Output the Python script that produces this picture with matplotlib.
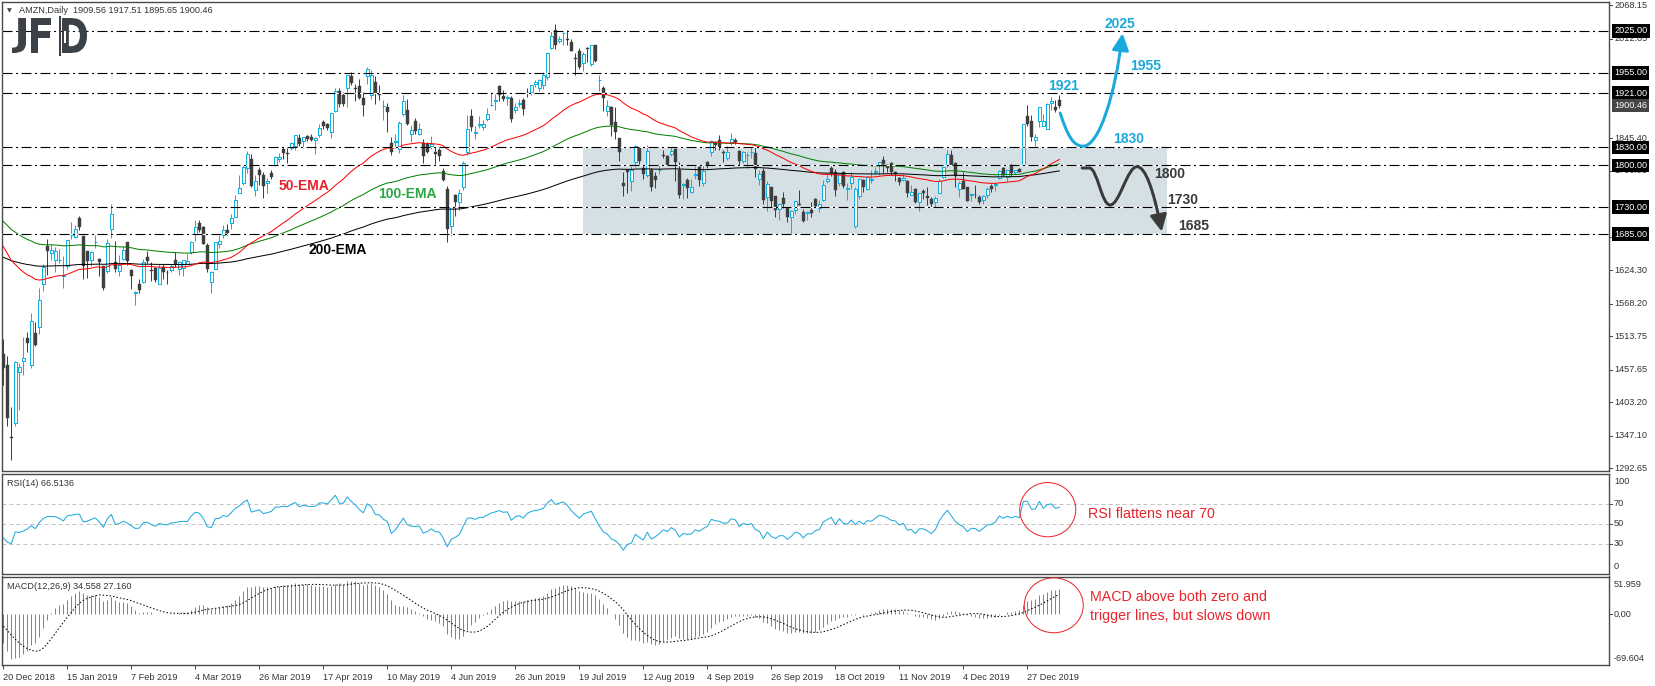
import numpy as np
import matplotlib
matplotlib.use('Agg')
import matplotlib.pyplot as plt
import matplotlib.transforms as mtransforms
from matplotlib.patches import Rectangle, Ellipse, FancyArrowPatch, PathPatch
from matplotlib.path import Path
from matplotlib.collections import LineCollection, PolyCollection
from matplotlib.textpath import TextPath
from matplotlib.font_manager import FontProperties

plt.rcParams['lines.scale_dashes'] = False
plt.rcParams['font.family'] = ['Liberation Sans', 'DejaVu Sans']

# ---------------- data (AMZN daily, 20 Dec 2018 .. 9 Jan 2020) ----------------
opens = [
    1484, 1465, 1346, 1369, 1454, 1473, 1511,
    1465, 1520, 1530, 1602, 1665, 1653, 1641, 1641, 1615, 1632, 1684, 1680, 1712, 1681, 1656, 1641, 1671, 1644, 1631, 1623, 1693,
    1639, 1623, 1643, 1671, 1625, 1586, 1601, 1604, 1647, 1625, 1628, 1601, 1630, 1620, 1624, 1641, 1626, 1628, 1635,
    1655, 1685, 1703, 1696, 1667, 1604, 1626, 1669, 1683, 1691, 1703, 1713, 1754, 1770, 1796, 1810, 1758, 1793, 1784, 1770, 1787,
    1800, 1811, 1827, 1821, 1829, 1833, 1845, 1841, 1849, 1848, 1842, 1851, 1873, 1869, 1855, 1891, 1925, 1917, 1929, 1949, 1930,
    1933, 1913, 1949, 1918, 1940, 1919, 1900, 1898, 1837, 1839, 1828, 1886, 1893, 1853, 1874, 1852, 1837, 1836, 1833, 1823, 1825, 1790,
    1760, 1699, 1750, 1738, 1764, 1822, 1883, 1854, 1867, 1864, 1877, 1901, 1908, 1933, 1916, 1913, 1912, 1892, 1902, 1909,
    1923, 1923, 1936, 1929, 1934, 1948, 1997, 2026, 2008, 2021, 2011, 2007, 1980, 1991, 1971, 1996, 1969, 2001, 1942, 1930, 1891, 1898,
    1872, 1845, 1770, 1792, 1773, 1806, 1829, 1796, 1783, 1793, 1782, 1793, 1818, 1815, 1819, 1828, 1793, 1767, 1776, 1755, 1783, 1797,
    1770, 1805, 1822, 1838, 1842, 1823, 1812, 1838, 1842, 1824, 1807, 1817, 1822, 1821, 1777, 1791, 1747, 1763, 1748, 1727,
    1746, 1728, 1713, 1726, 1735, 1722, 1720, 1725, 1743, 1729, 1742, 1773, 1796, 1788, 1770, 1788, 1761, 1771, 1698, 1748, 1775, 1760, 1776,
    1788, 1801, 1809, 1801, 1804, 1788, 1778, 1775, 1773, 1751, 1760, 1738, 1757, 1749, 1743, 1739, 1753, 1780, 1801, 1818,
    1804, 1760, 1774, 1764, 1751, 1751, 1747, 1742, 1750, 1765, 1767, 1778, 1795, 1781, 1800, 1788, 1794, 1801, 1883, 1874, 1842,
    1875, 1865, 1860, 1905, 1898, 1910,
]
highs = [
    1509, 1480, 1396, 1473, 1469, 1513, 1521,
    1553, 1538, 1594, 1635, 1677, 1668, 1663, 1660, 1648, 1675, 1705, 1700, 1716, 1682, 1657, 1657, 1683, 1645, 1632, 1677, 1736,
    1673, 1650, 1665, 1672, 1626, 1589, 1609, 1643, 1656, 1638, 1629, 1634, 1635, 1624, 1635, 1655, 1640, 1642, 1652,
    1674, 1709, 1708, 1698, 1670, 1623, 1672, 1684, 1700, 1702, 1719, 1750, 1784, 1800, 1824, 1819, 1783, 1797, 1788, 1778, 1793,
    1816, 1820, 1830, 1829, 1839, 1850, 1853, 1848, 1850, 1852, 1847, 1870, 1876, 1871, 1888, 1929, 1930, 1922, 1951, 1956, 1936,
    1944, 1922, 1964, 1959, 1949, 1935, 1909, 1904, 1847, 1852, 1875, 1918, 1911, 1868, 1879, 1871, 1844, 1839, 1849, 1830, 1829, 1796,
    1766, 1731, 1752, 1760, 1808, 1885, 1894, 1865, 1883, 1876, 1896, 1922, 1920, 1935, 1926, 1917, 1916, 1904, 1911, 1913,
    1930, 1935, 1942, 1945, 1956, 1990, 2025, 2036, 2017, 2023, 2026, 2012, 1988, 1996, 1989, 1998, 2001, 2001, 1951, 1933, 1910, 1900,
    1898, 1846, 1789, 1794, 1799, 1834, 1831, 1801, 1834, 1796, 1788, 1803, 1826, 1817, 1830, 1829, 1805, 1770, 1779, 1777, 1799, 1800,
    1801, 1808, 1842, 1841, 1850, 1826, 1833, 1854, 1846, 1826, 1824, 1822, 1831, 1831, 1793, 1796, 1773, 1763, 1749, 1737,
    1756, 1729, 1725, 1741, 1758, 1727, 1724, 1738, 1745, 1742, 1776, 1786, 1799, 1794, 1786, 1790, 1770, 1788, 1764, 1779, 1777, 1782, 1792,
    1797, 1806, 1815, 1803, 1806, 1790, 1780, 1786, 1775, 1767, 1762, 1754, 1761, 1763, 1747, 1748, 1777, 1797, 1825, 1825,
    1806, 1773, 1789, 1764, 1754, 1767, 1751, 1750, 1764, 1769, 1770, 1792, 1798, 1793, 1803, 1793, 1796, 1870, 1901, 1884, 1853,
    1898, 1886, 1904, 1914, 1910, 1918,
]
lows = [
    1432, 1364, 1307, 1363, 1390, 1449, 1487,
    1461, 1497, 1518, 1589, 1617, 1641, 1622, 1636, 1595, 1626, 1676, 1678, 1692, 1610, 1612, 1632, 1662, 1614, 1591, 1619, 1679,
    1622, 1614, 1642, 1633, 1593, 1567, 1586, 1603, 1637, 1606, 1605, 1601, 1610, 1601, 1621, 1630, 1616, 1615, 1634,
    1651, 1674, 1689, 1668, 1621, 1587, 1626, 1661, 1679, 1684, 1693, 1713, 1754, 1767, 1787, 1763, 1748, 1767, 1746, 1753, 1777,
    1799, 1805, 1810, 1804, 1825, 1825, 1832, 1829, 1840, 1841, 1819, 1848, 1860, 1859, 1846, 1890, 1898, 1900, 1898, 1934, 1907,
    1911, 1882, 1936, 1911, 1903, 1910, 1876, 1856, 1818, 1830, 1821, 1882, 1867, 1839, 1852, 1851, 1804, 1821, 1827, 1802, 1808, 1773,
    1672, 1681, 1715, 1726, 1759, 1818, 1857, 1844, 1862, 1859, 1875, 1900, 1892, 1907, 1908, 1901, 1872, 1887, 1898, 1884,
    1915, 1917, 1931, 1925, 1928, 1943, 1995, 1995, 2004, 2002, 2001, 1992, 1952, 1962, 1958, 1973, 1966, 1973, 1925, 1891, 1883, 1849,
    1844, 1808, 1749, 1753, 1757, 1798, 1802, 1777, 1780, 1757, 1762, 1785, 1813, 1800, 1815, 1774, 1745, 1744, 1746, 1754, 1777, 1765,
    1765, 1796, 1816, 1826, 1825, 1805, 1809, 1834, 1835, 1800, 1804, 1796, 1813, 1781, 1767, 1736, 1723, 1731, 1714, 1709,
    1728, 1705, 1685, 1719, 1733, 1705, 1709, 1714, 1730, 1722, 1741, 1771, 1782, 1749, 1765, 1762, 1742, 1760, 1695, 1743, 1756, 1759, 1771,
    1785, 1783, 1787, 1789, 1783, 1774, 1767, 1773, 1747, 1750, 1737, 1723, 1743, 1734, 1730, 1731, 1753, 1778, 1797, 1801,
    1763, 1747, 1760, 1740, 1740, 1746, 1735, 1736, 1745, 1755, 1757, 1777, 1782, 1774, 1782, 1785, 1788, 1800, 1866, 1841, 1832,
    1864, 1865, 1860, 1892, 1890, 1896,
]
closes = [
    1461, 1377, 1344, 1471, 1462, 1478, 1502,
    1539, 1500, 1575, 1630, 1657, 1659, 1656, 1641, 1617, 1675, 1684, 1693, 1696, 1632, 1640, 1655, 1671, 1638, 1594, 1670, 1719,
    1626, 1633, 1659, 1640, 1614, 1588, 1591, 1638, 1640, 1623, 1608, 1628, 1622, 1619, 1632, 1633, 1639, 1641, 1640,
    1672, 1696, 1692, 1669, 1626, 1621, 1671, 1673, 1691, 1686, 1712, 1742, 1762, 1797, 1819, 1765, 1774, 1784, 1766, 1773, 1781,
    1814, 1814, 1821, 1819, 1837, 1850, 1836, 1847, 1844, 1843, 1845, 1863, 1865, 1862, 1887, 1924, 1902, 1902, 1951, 1938, 1927,
    1912, 1901, 1962, 1951, 1921, 1918, 1900, 1890, 1823, 1840, 1871, 1908, 1869, 1859, 1858, 1860, 1815, 1823, 1836, 1819, 1816, 1775,
    1693, 1730, 1739, 1754, 1804, 1861, 1864, 1855, 1870, 1870, 1886, 1901, 1909, 1918, 1911, 1914, 1878, 1898, 1904, 1894,
    1922, 1934, 1939, 1943, 1952, 1988, 2017, 2001, 2011, 2021, 2010, 1992, 1978, 1965, 1986, 1994, 2001, 1974, 1943, 1912, 1899, 1867,
    1855, 1823, 1765, 1788, 1793, 1833, 1808, 1785, 1824, 1763, 1776, 1793, 1816, 1801, 1824, 1805, 1750, 1769, 1762, 1764, 1786, 1776,
    1790, 1801, 1841, 1834, 1831, 1821, 1823, 1844, 1839, 1808, 1823, 1817, 1822, 1794, 1785, 1742, 1768, 1740, 1725, 1736,
    1736, 1713, 1724, 1740, 1733, 1706, 1722, 1720, 1732, 1736, 1767, 1777, 1787, 1758, 1786, 1766, 1762, 1781, 1761, 1777, 1763, 1780, 1777,
    1791, 1805, 1802, 1796, 1788, 1786, 1772, 1778, 1753, 1755, 1739, 1753, 1753, 1746, 1735, 1746, 1774, 1797, 1819, 1801,
    1782, 1770, 1761, 1740, 1752, 1750, 1739, 1749, 1760, 1761, 1769, 1791, 1784, 1792, 1787, 1793, 1789, 1869, 1870, 1847, 1848,
    1898, 1875, 1903, 1907, 1892, 1900,
]
date_labels = ['20 Dec 2018', '15 Jan 2019', '7 Feb 2019', '4 Mar 2019', '26 Mar 2019',
               '17 Apr 2019', '10 May 2019', '4 Jun 2019', '26 Jun 2019', '19 Jul 2019',
               '12 Aug 2019', '4 Sep 2019', '26 Sep 2019', '18 Oct 2019', '11 Nov 2019',
               '4 Dec 2019', '27 Dec 2019']
bars_per_label = 16

levels = [2025, 1955, 1921, 1830, 1800, 1730, 1685]
price_axis_labels = [2068.15, 2012.05, 1845.40, 1790.95, 1680.40, 1624.30, 1568.20,
                     1513.75, 1457.65, 1403.20, 1347.10, 1292.65]
last_price = 1900.46

ema_seed = {50: 1664.0, 100: 1706.0, 200: 1646.0}
rsi_seed_gain, rsi_seed_loss = 16.9, 30.0
ema12_seed, ema26_seed = 1560.0, 1599.0
macd_prev = [0, -4, -8, -12, -16, -20, -23, -25.6]   # warm-up values before the first bar

n = len(closes)
assert len(opens) == n and len(highs) == n and len(lows) == n
o = np.array(opens, float); h = np.array(highs, float)
l = np.array(lows, float); c = np.array(closes, float)
x = np.arange(n)


def ema(vals, period, seed):
    a = 2.0 / (period + 1)
    out = [seed]
    for v in vals[1:]:
        out.append(out[-1] + a * (v - out[-1]))
    return np.array(out)


ema50 = ema(c, 50, ema_seed[50])
ema100 = ema(c, 100, ema_seed[100])
ema200 = ema(c, 200, ema_seed[200])

ag, al = rsi_seed_gain, rsi_seed_loss
rsi = [100 * ag / (ag + al)]
for i in range(1, n):
    ch = c[i] - c[i - 1]
    ag = (ag * 13 + max(ch, 0)) / 14
    al = (al * 13 + max(-ch, 0)) / 14
    rsi.append(100 * ag / (ag + al))
rsi = np.array(rsi)

macd = ema(c, 12, ema12_seed) - ema(c, 26, ema26_seed)
full = np.concatenate([macd_prev, macd])
signal = np.array([full[i:i + 9].mean() for i in range(n)])

# ---------------- figure ----------------
W, H, DPI = 1655, 686, 100
PX = 72.0 / DPI
fig = plt.figure(figsize=(W / DPI, H / DPI), dpi=DPI)


def add_ax(x0, y0, x1, y1):
    return fig.add_axes([x0 / W, 1 - y1 / H, (x1 - x0) / W, (y1 - y0) / H])


ax = add_ax(2, 2, 1609, 471)
axr = add_ax(2, 473.5, 1609, 574)
axm = add_ax(2, 576.5, 1609, 665)
XL = (-0.325, 401.4)
SPINE = '#4a4a4a'
TXT = '#333333'
FS = 6.6
for a in (ax, axr, axm):
    a.set_xlim(*XL)
    for s in a.spines.values():
        s.set_color(SPINE)
        s.set_linewidth(1.0)
    a.tick_params(left=False, labelleft=False, right=False, labelright=False,
                  bottom=False, labelbottom=False)
ax.set_ylim(1288.3, 2073.4)
axr.set_ylim(0, 100)
axm.set_ylim(-69.604, 51.959)

BLUE = '#0db1e2'
DARK = '#3f3f3f'
SKY = '#1aa9dc'

# box
ax.add_patch(Rectangle((144.9, 1685), 146.0, 145.0, facecolor='#d5e0e4', edgecolor='none', zorder=0.5))

# candles
wick_segs = [[(i, l[i]), (i, h[i])] for i in range(n)]
wick_cols = [BLUE if c[i] >= o[i] else DARK for i in range(n)]
ax.add_collection(LineCollection(wick_segs, colors=wick_cols, linewidths=1 * PX, zorder=2))
verts, fcs, ecs, lws = [], [], [], []
for i in range(n):
    if c[i] >= o[i]:
        hw = 0.32
        verts.append([(i - hw, o[i]), (i + hw, o[i]), (i + hw, c[i]), (i - hw, c[i])])
        fcs.append('white'); ecs.append(BLUE); lws.append(1 * PX)
    else:
        hw = 0.4
        verts.append([(i - hw, o[i]), (i + hw, o[i]), (i + hw, c[i]), (i - hw, c[i])])
        fcs.append(DARK); ecs.append(DARK); lws.append(0.4 * PX)
ax.add_collection(PolyCollection(verts, facecolors=fcs, edgecolors=ecs, linewidths=lws, zorder=3))

# EMAs
ax.plot(x, ema200, color='black', lw=1 * PX, zorder=4)
ax.plot(x, ema100, color='#008000', lw=1 * PX, zorder=4)
ax.plot(x, ema50, color='#ff0000', lw=1 * PX, zorder=4)

# levels
for v in levels:
    ax.axhline(v, color='white', lw=1.1 * PX, zorder=5)
    ax.axhline(v, color='black', lw=1.1 * PX, ls=(0, (10 * PX, 3.5 * PX, 2 * PX, 3.5 * PX)), zorder=5.1)

# EMA labels
ax.text(68.7, 1765.4, '50-EMA', color='#e8202a', fontsize=10, fontweight='bold', va='center', ha='left', zorder=8)
ax.text(93.7, 1752.0, '100-EMA', color='#2aa845', fontsize=10, fontweight='bold', va='center', ha='left', zorder=8)
ax.text(76.2, 1658.2, '200-EMA', color='black', fontsize=10, fontweight='bold', va='center', ha='left', zorder=8)

# level annotations
for txt, bx, py, col in [('2025', 275.4, 2036.6, SKY), ('1955', 281.7, 1966.3, SKY),
                         ('1921', 261.2, 1932.8, SKY), ('1830', 277.4, 1844.1, SKY),
                         ('1800', 287.7, 1785.5, '#3a3a3a'), ('1730', 290.9, 1742.0, '#3a3a3a'),
                         ('1685', 293.7, 1698.4, '#3a3a3a')]:
    ax.text(bx, py, txt, color=col, fontsize=10, fontweight='bold', va='center', ha='left', zorder=8)

# scenario arrows
up_path = Path([(264.2, 1887.6), (266.0, 1850.0), (267.5, 1832.0), (269.9, 1832.0),
                (274.0, 1832.0), (278.0, 1920.0), (279.8, 2021.0)],
               [Path.MOVETO, Path.CURVE4, Path.CURVE4, Path.CURVE4,
                Path.CURVE4, Path.CURVE4, Path.CURVE4])
ax.add_patch(FancyArrowPatch(path=up_path, arrowstyle='-|>,head_length=10,head_width=5',
                             mutation_scale=1, color=SKY, lw=3 * PX, zorder=7))
dn_path = Path([(269.7, 1795.5), (271.5, 1795.5),
                (273.5, 1795.5), (274.5, 1733.6), (276.7, 1733.6),
                (279.0, 1733.6), (281.0, 1797.7), (283.4, 1797.7),
                (285.5, 1797.7), (287.5, 1760.0), (289.6, 1689.0)],
               [Path.MOVETO, Path.LINETO,
                Path.CURVE4, Path.CURVE4, Path.CURVE4,
                Path.CURVE4, Path.CURVE4, Path.CURVE4,
                Path.CURVE4, Path.CURVE4, Path.CURVE4])
ax.add_patch(FancyArrowPatch(path=dn_path, arrowstyle='-|>,head_length=10,head_width=5',
                             mutation_scale=1, color='#3a3a3a', lw=3 * PX, zorder=7))

# right price axis
trm = mtransforms.blended_transform_factory(ax.transAxes, ax.transData)
XT = 1 + 5.0 / 1607
for v in price_axis_labels:
    ax.plot([1, 1 + 3.0 / 1607], [v, v], transform=trm, color=SPINE, lw=1 * PX, clip_on=False)
    ax.text(XT, v, f'{v:.2f}', transform=trm, ha='left', va='center', fontsize=FS, color=TXT, clip_on=False, zorder=9)
for v in levels:
    ax.text(XT, v, f'{v:.2f}', transform=trm, ha='left', va='center', fontsize=FS, color='white', zorder=10,
            clip_on=False, bbox=dict(boxstyle='square,pad=0.25', fc='black', ec='none'))
ax.text(XT, last_price, f'{last_price:.2f}', transform=trm, ha='left', va='center', fontsize=FS, color='white',
        zorder=10, clip_on=False, bbox=dict(boxstyle='square,pad=0.25', fc='#454545', ec='none'))

# header + logo
fig.text(9.3 / W, 1 - 10.7 / H, '▼', family='DejaVu Sans', fontsize=4.5, ha='center', va='center', color='#444444')
fig.text(19 / W, 1 - 10.7 / H, 'AMZN,Daily  1909.56 1917.51 1895.65 1900.46', fontsize=FS, ha='left', va='center', color=TXT)

fp = FontProperties(family='DejaVu Sans', weight='bold')
LOGO = '#3c4047'


def logo_letter(ch, x0, x1, y0, y1):
    tp = TextPath((0, 0), ch, size=1, prop=fp)
    ext = tp.get_extents()
    sx = (x1 - x0) / ext.width
    sy = (y1 - y0) / ext.height
    tr = mtransforms.Affine2D().translate(-ext.x0, -ext.y0).scale(sx, sy).translate(x0, H - y1)
    fig.add_artist(PathPatch(tr.transform_path(tp), facecolor=LOGO, edgecolor='none',
                             transform=mtransforms.IdentityTransform(), zorder=20))


logo_letter('J', 12, 26, 18, 53)
logo_letter('F', 31, 51, 18, 53)
logo_letter('D', 62, 87, 18, 53)
fig.add_artist(Rectangle((59.0, H - 56), 1.8, 40, facecolor=LOGO, edgecolor='none',
                         transform=mtransforms.IdentityTransform(), zorder=20))
fig.add_artist(Rectangle((64.3, H - 43), 2.0, 12, facecolor='white', edgecolor='none',
                         transform=mtransforms.IdentityTransform(), zorder=21))

# RSI panel
for v in (70, 50, 30):
    axr.axhline(v, color='#c4c4c4', lw=1 * PX, ls=(0, (4 * PX, 3 * PX)), zorder=1)
axr.plot(x, rsi, color=SKY, lw=1 * PX, zorder=3)
trr = mtransforms.blended_transform_factory(axr.transAxes, axr.transData)
for v in (70, 50, 30):
    axr.plot([1, 1 + 3.0 / 1607], [v, v], transform=trr, color=SPINE, lw=1 * PX, clip_on=False)
    axr.text(XT, v, str(v), transform=trr, ha='left', va='center', fontsize=FS, color=TXT)
axr.text(XT, 0.925, '100', transform=axr.transAxes, ha='left', va='center', fontsize=FS, color=TXT)
axr.text(XT, 0.07, '0', transform=axr.transAxes, ha='left', va='center', fontsize=FS, color=TXT)
axr.text(5 / 1607, 0.905, 'RSI(14) 66.5136', transform=axr.transAxes, ha='left', va='center', fontsize=FS, color=TXT)
axr.add_patch(Ellipse((261.1, 64), 14, 54, facecolor='none', edgecolor='#e8242c', lw=1 * PX, zorder=6))
axr.text(271.2, 59.7, 'RSI flattens near 70', color='#e8242c', fontsize=10.3, ha='left', va='center', zorder=6)

# MACD panel
axm.vlines(x, 0, macd, color=SKY, lw=1 * PX, zorder=2)
axm.plot(x, signal, color='black', lw=1 * PX, ls=(0, (1.5 * PX, 2 * PX)), zorder=3)
trmm = mtransforms.blended_transform_factory(axm.transAxes, axm.transData)
axm.plot([1, 1 + 3.0 / 1607], [0, 0], transform=trmm, color=SPINE, lw=1 * PX, clip_on=False)
axm.text(XT, 0, '0.00', transform=trmm, ha='left', va='center', fontsize=FS, color=TXT)
axm.text(XT, 0.915, '51.959', transform=axm.transAxes, ha='left', va='center', fontsize=FS, color=TXT)
axm.text(XT, 0.068, '-69.604', transform=axm.transAxes, ha='left', va='center', fontsize=FS, color=TXT)
axm.text(5 / 1607, 0.89, 'MACD(12,26,9) 34.558 27.160', transform=axm.transAxes, ha='left', va='center',
         fontsize=FS, color=TXT)
axm.add_patch(Ellipse((262.6, 12.4), 14.75, 75.5, facecolor='none', edgecolor='#e8242c', lw=1 * PX, zorder=6))
axm.text(271.7, 24.2, 'MACD above both zero and', color='#e8242c', fontsize=10.3, ha='left', va='center', zorder=6)
axm.text(271.7, -2.3, 'trigger lines, but slows down', color='#e8242c', fontsize=10.3, ha='left', va='center', zorder=6)

# date axis
ticks = [k * bars_per_label for k in range(len(date_labels))]
axm.set_xticks(ticks)
axm.set_xticklabels(date_labels, ha='left', fontsize=FS, color=TXT)
axm.tick_params(bottom=True, labelbottom=True, length=4 * PX, width=1 * PX, direction='out',
                pad=3.0, color=SPINE)

fig.savefig('out.png', dpi=DPI, facecolor='white')
